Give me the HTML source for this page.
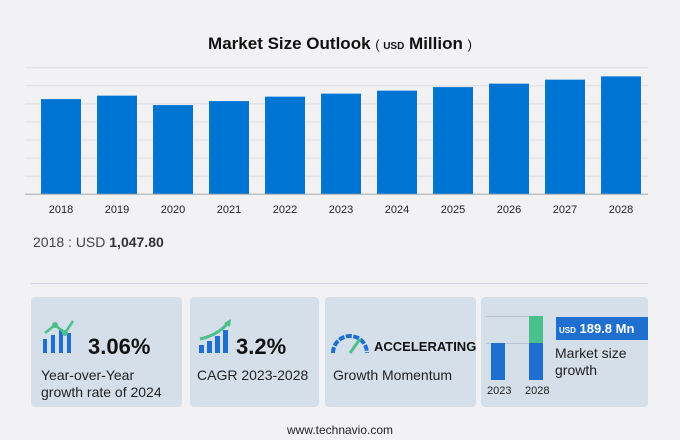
<!DOCTYPE html>
<html><head><meta charset="utf-8"><style>
body{margin:0;width:680px;height:440px;background:#f2f2f5;font-family:"Liberation Sans",sans-serif;overflow:hidden;position:relative}
.card{position:absolute;top:297px;height:110px;background:#d5dfea;border-radius:4px}
.t{position:absolute;color:#222}
</style></head><body>
<div class="t" style="left:0;width:680px;top:34px;text-align:center;font-size:17px;font-weight:bold;color:#111">Market Size Outlook <span style="font-weight:normal;font-size:13px">( <span style="font-size:10px;font-weight:bold">USD</span></span> Million <span style="font-weight:normal;font-size:13px">)</span></div>
<svg id="chart" width="680" height="220" style="position:absolute;left:0;top:0"></svg>
<div class="t" style="left:33px;top:234px;font-size:14px;color:#444">2018 : USD <b style="color:#333">1,047.80</b></div>
<div style="position:absolute;left:31px;width:617px;top:283px;height:1px;background:#cdd0e0"></div>
<div class="card" style="left:31px;width:151px">
<svg width="44" height="36" style="position:absolute;left:10px;top:22px"><rect x="2" y="20" width="4" height="14" fill="#1f6fd0"/><rect x="10" y="16" width="4" height="18" fill="#1f6fd0"/><rect x="18" y="10" width="4" height="24" fill="#1f6fd0"/><rect x="26" y="14" width="4" height="20" fill="#1f6fd0"/><polyline points="4,14 14,6 24,14 32,2" fill="none" stroke="#4cc08a" stroke-width="2.5"/><circle cx="14" cy="6" r="3" fill="#4cc08a"/><circle cx="24" cy="14" r="3" fill="#4cc08a"/></svg>
<div class="t" style="left:57px;top:37px;font-size:22px;font-weight:bold;color:#111">3.06%</div>
<div class="t" style="left:10px;top:70px;font-size:14px;line-height:17px">Year-over-Year<br>growth rate of 2024</div></div>
<div class="card" style="left:190px;width:129px">
<svg width="40" height="36" style="position:absolute;left:8px;top:22px"><rect x="1" y="26" width="5" height="8" fill="#1f6fd0"/><rect x="9" y="22" width="5" height="12" fill="#1f6fd0"/><rect x="17" y="17" width="5" height="17" fill="#1f6fd0"/><rect x="25" y="11" width="5" height="23" fill="#1f6fd0"/><path d="M2 20 Q20 16 30 4" fill="none" stroke="#4cc08a" stroke-width="3"/><polygon points="26,4 33,0 32,8" fill="#4cc08a"/></svg>
<div class="t" style="left:46px;top:37px;font-size:22px;font-weight:bold;color:#111">3.2%</div>
<div class="t" style="left:7px;top:70px;font-size:14px">CAGR 2023-2028</div></div>
<div class="card" style="left:325px;width:151px">
<svg width="40" height="30" style="position:absolute;left:5px;top:30px"><path d="M3 26 A17 17 0 0 1 37 26" fill="none" stroke="#1f6fd0" stroke-width="4" stroke-dasharray="6 1.5"/><line x1="20" y1="26" x2="30" y2="12" stroke="#4cc08a" stroke-width="3"/></svg>
<div class="t" style="left:49px;top:42px;font-size:13px;font-weight:bold;color:#111">ACCELERATING</div>
<div class="t" style="left:8px;top:70px;font-size:14px">Growth Momentum</div></div>
<div class="card" style="left:481px;width:167px">
<div style="position:absolute;left:5px;top:19px;width:50px;height:1px;background:#b8c4d4"></div>
<div style="position:absolute;left:5px;top:46px;width:50px;height:1px;background:#b8c4d4"></div>
<div style="position:absolute;left:10px;top:46px;width:14px;height:37px;background:#1f6fd0"></div>
<div style="position:absolute;left:48px;top:46px;width:14px;height:37px;background:#1f6fd0"></div>
<div style="position:absolute;left:48px;top:19px;width:14px;height:27px;background:#4cc08a"></div>
<div class="t" style="left:6px;top:88px;font-size:11px">2023</div>
<div class="t" style="left:44px;top:88px;font-size:11px">2028</div>
<div style="position:absolute;left:75px;top:20px;width:92px;height:23px;background:#1f6fd0;color:#fff;font-size:13px;font-weight:bold;line-height:23px"><span style="font-size:8px;margin-left:3px">USD</span> 189.8 Mn</div>
<div class="t" style="left:74px;top:48px;font-size:14px;line-height:17px">Market size<br>growth</div></div>
<div class="t" style="left:0;width:680px;text-align:center;top:423px;font-size:12px">www.technavio.com</div>
<script>
const years=["2018","2019","2020","2021","2022","2023","2024","2025","2026","2027","2028"];
const values=[1047.8,1086,982,1026,1075,1108,1141,1180,1218,1262,1298];
const yMax=1393.5, gridCount=7;
const svg=document.getElementById('chart'),NS="http://www.w3.org/2000/svg";
const x0=25,x1=648,base=194.3,yTop=67.7,step=56,bw=40,firstC=61;
const y=v=>base-(v/yMax)*(base-yTop);
const xc=i=>firstC+i*step;
for(let g=1;g<=gridCount;g++){const l=document.createElementNS(NS,'line');const yy=base-g*(base-yTop)/gridCount;
l.setAttribute('x1',x0);l.setAttribute('x2',x1);l.setAttribute('y1',yy);l.setAttribute('y2',yy);l.setAttribute('stroke','#dcdce2');


svg.appendChild(l);}
values.forEach((v,i)=>{const r=document.createElementNS(NS,'rect');r.setAttribute('x',xc(i)-bw/2);r.setAttribute('y',y(v));r.setAttribute('width',bw);r.setAttribute('height',base-y(v));r.setAttribute('fill','#0074d2');


svg.appendChild(r);
const t=document.createElementNS(NS,'text');t.setAttribute('x',xc(i));t.setAttribute('y',213);t.setAttribute('text-anchor','middle');t.setAttribute('font-size','11');t.setAttribute('fill','#222');t.textContent=years[i];


svg.appendChild(t);});
const b=document.createElementNS(NS,'line');b.setAttribute('x1',x0);b.setAttribute('x2',x1);b.setAttribute('y1',base);b.setAttribute('y2',base);b.setAttribute('stroke','#aaa');


svg.appendChild(b);
</script>
</body></html>
